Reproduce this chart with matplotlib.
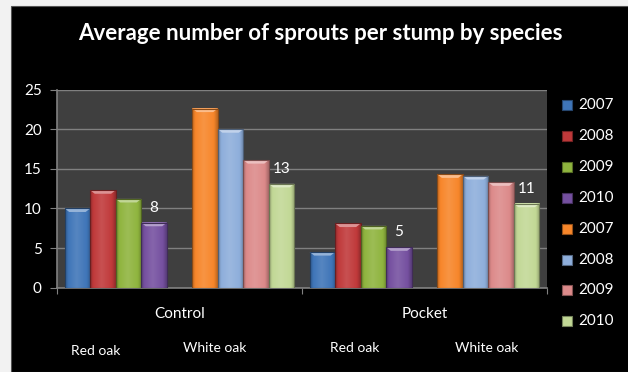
import matplotlib
matplotlib.use("Agg")
import matplotlib.pyplot as plt
import numpy as np
from matplotlib.colors import LinearSegmentedColormap, to_rgb
from matplotlib.patches import Polygon, Rectangle

# Data
categories = ["Control", "Pocket"]
species = ["Red oak", "White oak"]
years = ["2007", "2008", "2009", "2010"]
red_oak = {
    "Control": [10.0, 12.3, 11.2, 8.2],
    "Pocket": [4.5, 8.1, 7.8, 5.1],
}
white_oak = {
    "Control": [22.6, 20.0, 16.1, 13.1],
    "Pocket": [14.3, 14.1, 13.3, 10.6],
}
# labels shown above the 2010 bars
labels_2010 = {"Control": ["8", "13"], "Pocket": ["5", "11"]}

red_colors = ["#3f75b8", "#c0393a", "#8fb43e", "#7550a0"]
white_colors = ["#f7862a", "#8eaedb", "#dc8a8a", "#c2d896"]

W, H = 628, 372
FONT = "Lato"


def fx(px):
    return px / W


def fy(py):
    return 1 - py / H


def shaded_bar(ax, x, h, color, w=1.0):
    """Excel-2007 style bar: horizontal gradient plus a light bevel at the top."""
    base = np.array(to_rgb(color))
    dark = base * 0.75
    light = np.clip(base + (1 - base) * 0.12, 0, 1)
    cmap = LinearSegmentedColormap.from_list(
        "bar", [(0, dark), (0.12, base), (0.45, light), (0.85, base), (1, dark)]
    )
    grad = np.linspace(0, 1, 64).reshape(1, -1)
    ax.imshow(grad, cmap=cmap, extent=[x - w / 2, x + w / 2, 0, h],
              aspect="auto", interpolation="bicubic", zorder=3)
    bev = 0.45
    top = np.clip(base + (1 - base) * 0.45, 0, 1)
    ax.add_patch(Polygon([(x - w / 2, h), (x + w / 2, h),
                          (x + w / 2 - 0.18, h - bev), (x - w / 2 + 0.18, h - bev)],
                         closed=True, facecolor=top, edgecolor="none", zorder=4))
    ax.add_patch(Rectangle((x - w / 2, 0), w, h, fill=False,
                           edgecolor=base * 0.55, linewidth=0.8, zorder=5))


fig = plt.figure(figsize=(W / 100, H / 100), dpi=100, facecolor="#f2f2f2")
fig.add_artist(Rectangle((fx(10.5), 0), 1, fy(6), transform=fig.transFigure,
                         facecolor="black", edgecolor="#555555", linewidth=0.8,
                         zorder=-5))

ax = fig.add_axes([fx(57), fy(287.7), fx(547 - 57), (287.7 - 89.5) / H])
ax.set_facecolor("#3f3f3f")

cat_w = 9.6
for k, cat in enumerate(categories):
    start = k * cat_w + 0.3
    for j, (v, c) in enumerate(zip(red_oak[cat], red_colors)):
        shaded_bar(ax, start + j + 0.5, v, c)
    for j, (v, c) in enumerate(zip(white_oak[cat], white_colors)):
        shaded_bar(ax, start + 5 + j + 0.5, v, c)
    ax.text(start + 3.5, red_oak[cat][3] + 1.0, labels_2010[cat][0], ha="center",
            va="bottom", color="white", fontsize=11, family=FONT, zorder=6)
    ax.text(start + 8.5, white_oak[cat][3] + 1.0, labels_2010[cat][1], ha="center",
            va="bottom", color="white", fontsize=11, family=FONT, zorder=6)

ax.set_xlim(0, cat_w * len(categories))
ax.set_ylim(0, 25)
ax.set_yticks(np.arange(0, 26, 5))
ax.grid(axis="y", color="#808080", linewidth=1.0, zorder=1)
ax.set_axisbelow(True)
ax.set_xticks([0, cat_w, 2 * cat_w])
ax.set_xticklabels([])
ax.set_xticks([cat_w * (k + 0.5) for k in range(len(categories))], minor=True)
ax.set_xticklabels(categories, minor=True, color="white", fontsize=11, family=FONT)
ax.tick_params(axis="x", which="minor", length=0, pad=14)
ax.tick_params(axis="x", which="major", length=4, color="#808080", direction="out")
ax.tick_params(axis="y", length=5, color="#808080", colors="white", labelsize=11, pad=6)
for lab in ax.get_yticklabels():
    lab.set_family(FONT)
for side in ["top", "right"]:
    ax.spines[side].set_visible(False)
for side in ["left", "bottom"]:
    ax.spines[side].set_color("#808080")
    ax.spines[side].set_linewidth(1.2)

# species text boxes under the categories
species_pos = [(96, 351), (215, 348), (355, 348.5), (487, 348.5)]
for (px, py), name in zip(species_pos, species * 2):
    fig.text(fx(px), fy(py), name, ha="center", va="center", color="white",
             fontsize=10, family=FONT)

# legend
leg_labels = years + years
leg_colors = red_colors + white_colors
for i, (lab, c) in enumerate(zip(leg_labels, leg_colors)):
    yc = 105 + i * 30.9
    base = np.array(to_rgb(c))
    fig.add_artist(Rectangle((fx(562), fy(yc + 5)), fx(10), 10 / H,
                             transform=fig.transFigure, facecolor=base,
                             edgecolor=base * 0.6, linewidth=0.8))
    fig.text(fx(578), fy(yc), lab, ha="left", va="center", color="white",
             fontsize=11, family=FONT)

fig.text(fx(320.5), fy(33), "Average number of sprouts per stump by species",
         ha="center", va="center", color="white", fontsize=16, fontweight="bold",
         family=FONT)

fig.savefig("out.png", dpi=100, facecolor=fig.get_facecolor())
